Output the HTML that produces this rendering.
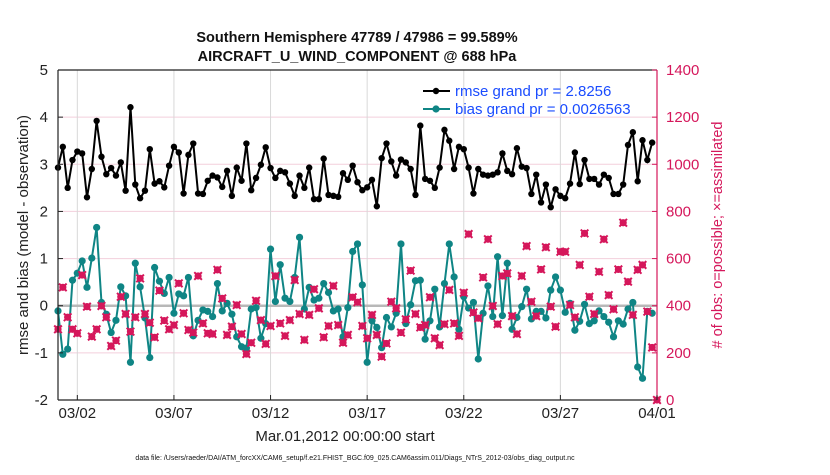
<!DOCTYPE html>
<html><head><meta charset="utf-8"><style>
body{margin:0;background:#fff;}
svg text{font-family:"Liberation Sans",Arial,sans-serif;}
</style></head><body>
<svg id="chart" width="830" height="470" viewBox="0 0 830 470" xmlns="http://www.w3.org/2000/svg">
<rect width="830" height="470" fill="#fff"/>
<g id="grid"></g><g id="marks"></g><g id="axes"></g>
</svg>
<script>
const xTickLabels=["03/02","03/07","03/12","03/17","03/22","03/27","04/01"];
const xTickDays=[1,6,11,16,21,26,31];
const leftTicks=[-2,-1,0,1,2,3,4,5];
const rightTicks=[0,200,400,600,800,1000,1200,1400];
const rmse=[2.93,3.37,2.50,3.09,3.27,3.23,2.30,2.90,3.92,3.16,2.79,2.92,2.76,3.04,2.44,4.21,2.57,2.28,2.44,3.32,2.59,2.64,2.51,2.97,3.37,3.25,2.38,3.20,3.44,2.38,2.37,2.65,
2.76,2.72,2.52,2.86,2.33,2.93,2.65,3.44,2.45,2.71,2.99,3.36,2.92,2.71,2.86,2.83,2.59,2.33,2.76,2.50,2.93,2.26,2.26,3.12,2.35,2.33,2.31,2.81,2.67,2.97,2.62,
2.45,2.51,2.67,2.11,3.13,3.44,3.06,2.76,3.10,3.04,2.90,2.35,3.82,2.69,2.65,2.50,2.93,3.73,3.50,2.90,3.37,3.32,2.93,2.38,2.90,2.78,2.76,2.78,2.83,3.23,2.86,
2.79,3.34,2.95,2.92,2.37,2.78,2.19,2.57,2.09,2.47,2.33,2.28,2.59,3.25,2.58,3.09,2.69,2.69,2.57,2.78,2.71,2.37,2.37,2.57,3.41,3.68,2.64,3.51,3.09,3.46];
const bias=[-0.11,-1.03,-0.92,0.54,0.69,0.95,0.39,1.01,1.66,0.07,-0.18,-0.57,-0.31,0.40,0.21,-1.20,0.90,0.40,-0.26,-1.10,0.81,0.52,0.26,0.60,-0.16,0.25,0.21,0.60,-0.64,-0.31,-0.09,-0.12,
-0.23,0.47,-0.11,0.05,-0.18,-0.66,-0.87,-0.90,-0.07,-0.04,-0.69,-0.38,1.20,0.09,0.87,0.16,0.09,0.60,1.45,-0.07,0.39,0.12,0.16,0.47,0.28,-0.11,-0.07,-0.66,-0.04,1.15,1.31,
0.44,-1.20,-0.32,-0.46,-0.89,-0.25,-0.45,-0.16,1.31,-0.38,0.02,0.53,0.54,-0.71,-0.32,0.35,-0.45,0.47,1.31,0.61,-0.50,0.19,-0.05,0.07,-1.13,-0.16,0.42,-0.23,1.04,-0.21,0.90,
-0.50,-0.25,-0.02,0.35,-0.28,-0.12,-0.12,-0.26,0.33,0.61,0.33,-0.14,0.05,-0.52,-0.33,0.03,-0.38,-0.32,-0.11,-0.23,-0.35,-0.66,-0.32,-0.39,-0.07,0.07,-1.30,-1.54,-0.12,-0.16];
const obs=[300,478,351,300,283,530,396,269,300,399,351,229,252,438,365,290,351,516,365,328,266,464,337,300,318,495,368,297,286,526,325,283,
280,552,431,276,311,403,280,195,243,421,339,238,314,526,325,272,339,509,365,255,361,470,389,266,314,484,318,243,276,436,415,
314,262,361,276,184,240,417,389,286,342,549,365,308,318,436,262,233,322,467,325,272,455,704,371,347,520,682,399,322,526,537,
356,280,526,653,417,356,554,648,396,311,629,629,403,351,573,707,438,365,544,682,445,385,554,752,502,361,552,573,375,223,0];

const X0=58,X1=657,Y0=70,Y1=400;
const xs=d=>X0+(d/31)*(X1-X0);
const yl=v=>Y1-(v+2)/7*(Y1-Y0);
const yr=v=>Y1-v/1400*(Y1-Y0);
const NS="http://www.w3.org/2000/svg";
function mk(tag,attrs,parent,txt){const e=document.createElementNS(NS,tag);for(const k in attrs)e.setAttribute(k,attrs[k]);if(txt!==undefined)e.textContent=txt;parent.appendChild(e);return e;}
const grid=document.getElementById('grid'),marks=document.getElementById('marks'),axes=document.getElementById('axes');
const PINK="#d5175b",TEAL="#0f8585";

leftTicks.forEach(t=>{if(t!==0&&t!==5&&t!==-2){const l=mk('line',{x1:X0,x2:X1,y1:yl(t),y2:yl(t),stroke:'#f3cfdc','stroke-width':1},grid);

}});
xTickDays.forEach(d=>{const l=mk('line',{x1:xs(d),x2:xs(d),y1:Y0,y2:Y1,stroke:'#d8d8d8','stroke-width':1},grid);

});
const z=mk('line',{x1:X0,x2:X1,y1:yl(0),y2:yl(0),stroke:'#b8b8b8','stroke-width':2.5},grid);



const td=k=>k*0.25;
let p=rmse.map((v,k)=>(k?'L':'M')+xs(td(k)).toFixed(1)+' '+yl(v).toFixed(1)).join('');
const rl=mk('path',{d:p,fill:'none',stroke:'#000','stroke-width':2},marks);


rmse.forEach((v,k)=>{const c=mk('circle',{cx:xs(td(k)),cy:yl(v),r:3.2,fill:'#000'},marks);

});
p=bias.map((v,k)=>(k?'L':'M')+xs(td(k)).toFixed(1)+' '+yl(v).toFixed(1)).join('');
const bl=mk('path',{d:p,fill:'none',stroke:TEAL,'stroke-width':2},marks);


bias.forEach((v,k)=>{const c=mk('circle',{cx:xs(td(k)),cy:yl(v),r:3.6,fill:TEAL},marks);

});
obs.forEach((v,k)=>{const x=xs(td(k)),y=yr(v);const g=mk('g',{},marks);


mk('circle',{cx:x,cy:y,r:3.6,fill:PINK},g);
mk('path',{d:`M${x-3.8} ${y-3.8}L${x+3.8} ${y+3.8}M${x-3.8} ${y+3.8}L${x+3.8} ${y-3.8}`,stroke:PINK,'stroke-width':2},g);});

const fr=(x1,y1,x2,y2,c,n)=>{const l=mk('line',{x1,y1,x2,y2,stroke:c,'stroke-width':1.2},axes);

};
fr(X0,Y0,X1,Y0,'#222','top-border');fr(X0,Y1,X1,Y1,'#222','x-axis');fr(X0,Y0,X0,Y1,'#222','left-y-axis');fr(X1,Y0,X1,Y1,PINK,'right-y-axis');
leftTicks.forEach(t=>{mk('line',{x1:X0,x2:X0+5,y1:yl(t),y2:yl(t),stroke:'#222'},axes);
const tx=mk('text',{x:X0-10,y:yl(t)+5,'font-size':15,'text-anchor':'end',fill:'#222'},axes,String(t));

});
rightTicks.forEach(t=>{mk('line',{x1:X1-5,x2:X1,y1:yr(t),y2:yr(t),stroke:PINK},axes);
const tx=mk('text',{x:X1+9,y:yr(t)+5,'font-size':15,fill:PINK},axes,String(t));

});
xTickDays.forEach((d,i)=>{mk('line',{x1:xs(d),x2:xs(d),y1:Y1,y2:Y1-5,stroke:'#222'},axes);
const tx=mk('text',{x:xs(d),y:Y1+18,'font-size':15,'text-anchor':'middle',fill:'#222'},axes,xTickLabels[i]);

});
</script>
<svg width="830" height="470" style="position:absolute;left:0;top:0" xmlns="http://www.w3.org/2000/svg">
<text x="357" y="42" font-size="14.5" font-weight="bold" text-anchor="middle" fill="#111">Southern Hemisphere 47789 / 47986 = 99.589%</text>
<text x="357" y="61" font-size="14.5" font-weight="bold" text-anchor="middle" fill="#111">AIRCRAFT_U_WIND_COMPONENT @ 688 hPa</text>
<text transform="translate(28,235) rotate(-90)" font-size="15" text-anchor="middle" fill="#222">rmse and bias (model - observation)</text>
<text transform="translate(722,235) rotate(-90)" font-size="14.5" text-anchor="middle" fill="#d5175b"># of obs: o=possible; ×=assimilated</text>
<text x="345" y="441" font-size="15" text-anchor="middle" fill="#222">Mar.01,2012 00:00:00 start</text>
<text x="355" y="460" font-size="7" text-anchor="middle" fill="#111">data file: /Users/raeder/DAI/ATM_forcXX/CAM6_setup/f.e21.FHIST_BGC.f09_025.CAM6assim.011/Diags_NTrS_2012-03/obs_diag_output.nc</text>
<g>
<line x1="423" y1="91" x2="450" y2="91" stroke="#000" stroke-width="2"/><circle cx="436" cy="91" r="3.2" fill="#000"/>
<text x="455" y="96" font-size="15" fill="#1a4cff">rmse grand pr = 2.8256</text>
<line x1="423" y1="109" x2="450" y2="109" stroke="#0f8585" stroke-width="2"/><circle cx="436" cy="109" r="3.6" fill="#0f8585"/>
<text x="455" y="114" font-size="15" fill="#1a4cff">bias grand pr = 0.0026563</text>
</g>
</svg>
</body></html>
